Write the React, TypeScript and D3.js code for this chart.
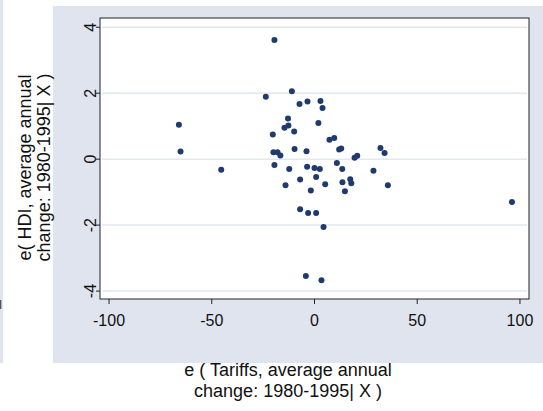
import React from "react";
import * as d3 from "d3";

// e(Tariffs | X) residuals
const tariffs: number[] = [
  -66.0, -65.2, -45.4, -19.5, 96.1, -23.7, -11.0, -7.3, -3.4, 2.9,
  3.9, -12.9, -12.7, -14.6, -9.9, 1.9, -20.3, 7.3, 9.6, 32.1,
  34.1, -9.7, -3.9, -20.0, -18.0, -16.6, 12.0, 13.0, 19.5, 20.8,
  10.9, -19.5, -12.3, -3.6, 0.0, 2.6, 13.5, 28.7, -7.0, 0.8,
  -14.1, 5.2, 13.6, 17.4, 17.9, 35.7, -1.8, 14.8, -7.0, -3.1,
  0.8, 4.4, -4.2, 3.4,
];
// e(HDI | X) residuals
const hdi: number[] = [
  1.04, 0.23, -0.32, 3.61, -1.3, 1.89, 2.06, 1.67, 1.75, 1.76,
  1.55, 1.23, 1.02, 0.95, 0.84, 1.1, 0.75, 0.59, 0.64, 0.34,
  0.19, 0.31, 0.24, 0.21, 0.21, 0.11, 0.29, 0.32, 0.04, 0.1,
  -0.12, -0.18, -0.3, -0.23, -0.27, -0.3, -0.3, -0.35, -0.62, -0.54,
  -0.79, -0.76, -0.7, -0.61, -0.73, -0.79, -0.95, -0.97, -1.52, -1.63,
  -1.63, -2.06, -3.54, -3.67,
];
const xTicks: number[] = [-100, -50, 0, 50, 100];
const yTicks: number[] = [-4, -2, 0, 2, 4];
const xTitle: string[] = ["e ( Tariffs, average annual", "change: 1980-1995| X )"];
const yTitle: string[] = ["e( HDI, average annual", "change: 1980-1995| X )"];

const W = 543;
const H = 411;
const PL = 100, PR = 529, PT = 18, PB = 299;
const FONT = "'Liberation Sans', Arial, Helvetica, sans-serif";

export default function App() {
  const x = d3.scaleLinear().domain([-104.4, 104.4]).range([PL, PR]);
  const y = d3.scaleLinear().domain([-4.24, 4.28]).range([PB, PT]);
  const pts = tariffs.map((t, i) => ({ x: t, y: hdi[i] }));
  const ytc = (PT + PB) / 2 + 9;
  return (
    <svg
      width={W}
      height={H}
      style={{ position: "fixed", left: 0, top: 0, background: "#ffffff" }}
      fontFamily={FONT}
    >
      <rect x={0} y={0} width={W} height={H} fill="#ffffff" />
      <rect x={0} y={0} width={3} height={363} fill="#dfe4ee" />
      <rect x={0} y={300} width={1.3} height={9} fill="#555" />
      <rect x={53} y={6} width={W - 53} height={357} fill="#dfe4ee" />
      <rect x={PL} y={PT} width={PR - PL} height={PB - PT} fill="#ffffff" />
      {yTicks.map((t) => (
        <line
          key={"g" + t}
          x1={PL + 2}
          x2={PR - 2}
          y1={y(t)}
          y2={y(t)}
          stroke="#e4e7f0"
          strokeWidth={1.5}
        />
      ))}
      <rect
        x={PL}
        y={PT}
        width={PR - PL}
        height={PB - PT}
        fill="none"
        stroke="#222"
        strokeWidth={1}
      />
      {xTicks.map((t) => (
        <g key={"x" + t}>
          <line x1={x(t)} x2={x(t)} y1={PB} y2={PB + 5} stroke="#222" />
          <text
            x={x(t)}
            y={326}
            textAnchor="middle"
            fontSize={16}
            fill="#111"
          >
            {t}
          </text>
        </g>
      ))}
      {yTicks.map((t) => (
        <g key={"y" + t}>
          <line x1={PL - 4} x2={PL} y1={y(t)} y2={y(t)} stroke="#222" />
          <text
            transform={`translate(96,${y(t)}) rotate(-90)`}
            textAnchor="middle"
            fontSize={16}
            fill="#111"
          >
            {t}
          </text>
        </g>
      ))}
      {pts.map((p, i) => (
        <circle key={i} cx={x(p.x)} cy={y(p.y)} r={3} fill="#1f3b6e" />
      ))}
      {xTitle.map((s, i) => (
        <text
          key={"xt" + i}
          x={288}
          y={375.5 + i * 21}
          textAnchor="middle"
          fontSize={18}
          fill="#111"
        >
          {s}
        </text>
      ))}
      {yTitle.map((s, i) => (
        <text
          key={"yt" + i}
          transform={`translate(${31 + i * 18.5},${ytc}) rotate(-90)`}
          textAnchor="middle"
          fontSize={18}
          fill="#111"
        >
          {s}
        </text>
      ))}
    </svg>
  );
}
